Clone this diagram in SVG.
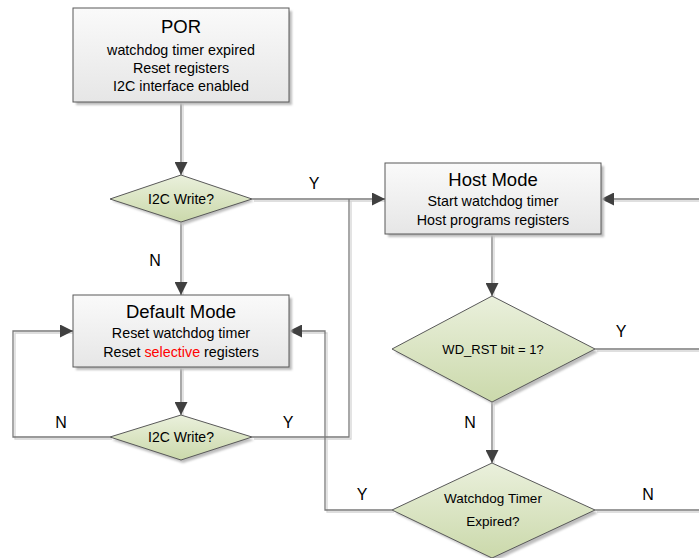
<svg xmlns="http://www.w3.org/2000/svg" width="699" height="558" viewBox="0 0 699 558">
<defs>
<linearGradient id="gBox" x1="0" y1="0" x2="0" y2="1">
<stop offset="0" stop-color="#fafafa"/><stop offset="1" stop-color="#e6e6e6"/>
</linearGradient>
<linearGradient id="gDia" x1="0" y1="0" x2="0" y2="1">
<stop offset="0" stop-color="#eaf0dc"/><stop offset="1" stop-color="#cbd9ab"/>
</linearGradient>
<marker id="arr" viewBox="0 0 10 10" refX="10" refY="5" markerWidth="13" markerHeight="13" markerUnits="userSpaceOnUse" orient="auto">
<path d="M0,0 L10,5 L0,10 z" fill="#404040"/>
</marker>
<filter id="sh" x="-10%" y="-10%" width="130%" height="130%">
<feGaussianBlur stdDeviation="1.2"/>
</filter>
</defs>
<style>
.box{fill:url(#gBox);stroke:#595959;stroke-width:1}
.dia{fill:url(#gDia);stroke:#595959;stroke-width:1}
.shd{fill:#bdbdbd;filter:url(#sh)}
.ln{fill:none;stroke:#7a7a7a;stroke-width:1.3}
.lns{fill:none;stroke:#d4d4d4;stroke-width:1.3}
.t{font-family:"Liberation Sans",Arial,sans-serif;fill:#000;text-anchor:middle}
.h{font-size:18.5px}
.b{font-size:14.3px}
.d{font-size:14px}
.l{font-size:16px}
</style>
<rect width="699" height="558" fill="#ffffff"/>

<g id="connectors">
<g transform="translate(2,2)">
<path class="lns" d="M181,102 V173"/>
<path class="lns" d="M252,199 H383"/>
<path class="lns" d="M349,199 V437 H252"/>
<path class="lns" d="M181,222 V294"/>
<path class="lns" d="M181,367 V413"/>
<path class="lns" d="M110,437 H13 V331 H71"/>
<path class="lns" d="M392,510 H325 V331 H291"/>
<path class="lns" d="M492,234 V294"/>
<path class="lns" d="M492,402 V461"/>
<path class="lns" d="M595,349 H699"/>
<path class="lns" d="M699,199 H603"/>
<path class="lns" d="M595,510 H699"/>
</g>
<path class="ln" d="M181,102 V175" marker-end="url(#arr)"/>
<path class="ln" d="M252,199 H385" marker-end="url(#arr)"/>
<path class="ln" d="M349,199 V437 H252"/>
<path class="ln" d="M181,222 V295" marker-end="url(#arr)"/>
<path class="ln" d="M181,367 V415" marker-end="url(#arr)"/>
<path class="ln" d="M110,437 H13 V331 H73" marker-end="url(#arr)"/>
<path class="ln" d="M392,510 H325 V331 H289" marker-end="url(#arr)"/>
<path class="ln" d="M492,234 V296" marker-end="url(#arr)"/>
<path class="ln" d="M492,402 V463" marker-end="url(#arr)"/>
<path class="ln" d="M595,349 H699"/>
<path class="ln" d="M699,199 H601" marker-end="url(#arr)"/>
<path class="ln" d="M595,510 H699"/>
<text class="t l" x="314" y="189">Y</text>
<text class="t l" x="155" y="266">N</text>
<text class="t l" x="61" y="428">N</text>
<text class="t l" x="288" y="428">Y</text>
<text class="t l" x="621" y="337">Y</text>
<text class="t l" x="470" y="428">N</text>
<text class="t l" x="362" y="500">Y</text>
<text class="t l" x="648" y="500">N</text>
</g>

<g id="por">
<rect class="shd" x="76" y="11" width="216" height="94"/>
<rect class="box" x="73" y="8" width="216" height="94"/>
<text class="t h" x="181" y="33">POR</text>
<text class="t b" x="181" y="55">watchdog timer expired</text>
<text class="t b" x="181" y="73">Reset registers</text>
<text class="t b" x="181" y="91">I2C interface enabled</text>
</g>

<g id="i2c-write-1">
<polygon class="shd" points="183,178 254,201 183,225 112,201"/>
<polygon class="dia" points="181,175 252,199 181,222 110,199"/>
<text class="t d" x="181" y="204">I2C Write?</text>
</g>

<g id="host-mode">
<rect class="shd" x="388" y="166" width="216" height="71"/>
<rect class="box" x="385" y="163" width="216" height="71"/>
<text class="t h" x="493" y="186">Host Mode</text>
<text class="t b" x="493" y="206">Start watchdog timer</text>
<text class="t b" x="493" y="225">Host programs registers</text>
</g>

<g id="default-mode">
<rect class="shd" x="76" y="298" width="216" height="72"/>
<rect class="box" x="73" y="295" width="216" height="72"/>
<text class="t h" x="181" y="318">Default Mode</text>
<text class="t b" x="181" y="338">Reset watchdog timer</text>
<text class="t b" x="181" y="357">Reset <tspan fill="#ff0000">selective</tspan> registers</text>
</g>

<g id="i2c-write-2">
<polygon class="shd" points="183,418 254,440 183,463 112,440"/>
<polygon class="dia" points="181,415 252,437 181,460 110,437"/>
<text class="t d" x="181" y="442">I2C Write?</text>
</g>

<g id="wd-rst">
<polygon class="shd" points="495,299 598,352 495,405 395,352"/>
<polygon class="dia" points="492,296 595,349 492,402 392,349"/>
<text class="t" style="font-size:13px" x="493" y="354">WD_RST bit = 1?</text>
</g>

<g id="wd-expired">
<polygon class="shd" points="495,466 598,513 495,561 395,513"/>
<polygon class="dia" points="492,463 595,510 492,558 392,510"/>
<text class="t" style="font-size:13.5px" x="493" y="503">Watchdog Timer</text>
<text class="t" style="font-size:13.5px" x="493" y="526">Expired?</text>
</g>
</svg>
